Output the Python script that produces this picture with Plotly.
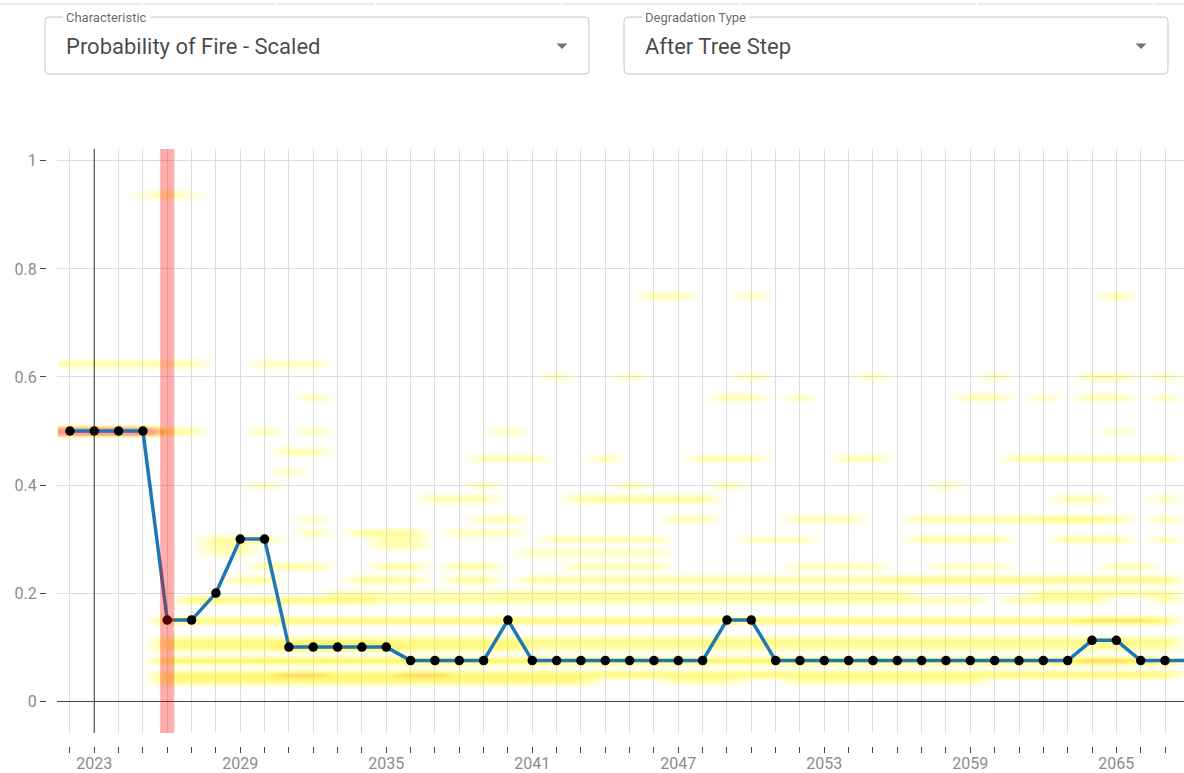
import plotly.graph_objects as go

# ---- selected run: scaled probability of fire per year ----
years = list(range(2022, 2069))
fire_prob = [
    0.5, 0.5, 0.5, 0.5,                # 2022-2025
    0.15, 0.15, 0.2, 0.3, 0.3,         # 2026-2030
    0.1, 0.1, 0.1, 0.1, 0.1,           # 2031-2035
    0.075, 0.075, 0.075, 0.075,        # 2036-2039
    0.15,                              # 2040
    0.075, 0.075, 0.075, 0.075, 0.075, 0.075, 0.075, 0.075,  # 2041-2048
    0.15, 0.15,                        # 2049-2050
    0.075, 0.075, 0.075, 0.075, 0.075, 0.075, 0.075, 0.075, 0.075, 0.075, 0.075, 0.075, 0.075,  # 2051-2063
    0.1125, 0.1125,                    # 2064-2065
    0.075, 0.075, 0.075,               # 2066-2068
]

current_year = 2023
selected_year = 2026

x_tick_labels = [2023, 2029, 2035, 2041, 2047, 2053, 2059, 2065]
y_tick_values = [0, 0.2, 0.4, 0.6, 0.8, 1]
y_tick_labels = ["0", "0.2", "0.4", "0.6", "0.8", "1"]

# ---- ensemble density: (level, first year, last year, share of runs) ----
density_upper = [
    (0.9375, 2025, 2025, 0.06), (0.9375, 2026, 2026, 0.14), (0.9375, 2027, 2027, 0.06),
    (0.75, 2046, 2047, 0.12), (0.75, 2050, 2050, 0.1), (0.75, 2065, 2065, 0.14),
    (0.625, 2022, 2027, 0.12), (0.625, 2030, 2032, 0.1),
    (0.6, 2042, 2042, 0.1), (0.6, 2045, 2045, 0.1), (0.6, 2050, 2050, 0.1),
    (0.6, 2055, 2055, 0.1), (0.6, 2060, 2060, 0.1), (0.6, 2064, 2065, 0.12), (0.6, 2067, 2067, 0.1),
    (0.5625, 2032, 2032, 0.12), (0.5625, 2049, 2050, 0.12), (0.5625, 2052, 2052, 0.1),
    (0.5625, 2059, 2060, 0.12), (0.5625, 2062, 2062, 0.1), (0.5625, 2064, 2065, 0.12), (0.5625, 2067, 2067, 0.1),
    (0.5, 2022, 2025, 1.0), (0.5, 2026, 2026, 0.22), (0.5, 2027, 2027, 0.12),
    (0.5, 2030, 2030, 0.12), (0.5, 2032, 2032, 0.12), (0.5, 2040, 2040, 0.12), (0.5, 2065, 2065, 0.1),
    (0.4625, 2031, 2032, 0.12),
    (0.45, 2039, 2041, 0.11), (0.45, 2044, 2044, 0.12), (0.45, 2048, 2050, 0.12),
    (0.45, 2054, 2055, 0.12), (0.45, 2061, 2067, 0.14),
    (0.425, 2031, 2031, 0.1),
    (0.4, 2030, 2030, 0.1), (0.4, 2039, 2039, 0.1), (0.4, 2045, 2045, 0.1),
    (0.4, 2049, 2049, 0.1), (0.4, 2058, 2058, 0.1),
    (0.375, 2037, 2039, 0.12), (0.375, 2043, 2048, 0.14), (0.375, 2063, 2064, 0.12), (0.375, 2067, 2067, 0.1),
    (0.3375, 2032, 2032, 0.1), (0.3375, 2039, 2040, 0.12), (0.3375, 2047, 2048, 0.12),
    (0.3375, 2052, 2054, 0.12), (0.3375, 2057, 2061, 0.14), (0.3375, 2062, 2064, 0.18),
    (0.3375, 2065, 2065, 0.14), (0.3375, 2067, 2067, 0.12),
    (0.3125, 2032, 2032, 0.12), (0.3125, 2034, 2036, 0.14), (0.3125, 2038, 2040, 0.1),
    (0.3, 2028, 2030, 0.14), (0.3, 2035, 2036, 0.12), (0.3, 2042, 2046, 0.12),
    (0.3, 2050, 2052, 0.1), (0.3, 2057, 2060, 0.14), (0.3, 2063, 2065, 0.14), (0.3, 2067, 2067, 0.12),
    (0.2875, 2028, 2029, 0.12), (0.2875, 2035, 2036, 0.12),
]

density_lower = [
    (0.275, 2028, 2029, 0.1), (0.275, 2041, 2046, 0.1),
    (0.25, 2030, 2032, 0.14), (0.25, 2035, 2036, 0.14), (0.25, 2038, 2039, 0.14),
    (0.25, 2043, 2046, 0.12), (0.25, 2052, 2055, 0.1), (0.25, 2058, 2060, 0.1), (0.25, 2065, 2066, 0.12),
    (0.225, 2029, 2030, 0.14), (0.225, 2034, 2036, 0.14), (0.225, 2038, 2039, 0.14),
    (0.225, 2041, 2055, 0.14), (0.225, 2056, 2067, 0.18),
    (0.2, 2033, 2039, 0.1), (0.2, 2040, 2055, 0.12), (0.2, 2056, 2056, 0.12), (0.2, 2062, 2067, 0.14),
    (0.1875, 2027, 2034, 0.2), (0.1875, 2035, 2056, 0.14), (0.1875, 2057, 2059, 0.12),
    (0.1875, 2061, 2064, 0.14), (0.1875, 2067, 2067, 0.12),
    (0.15, 2026, 2063, 0.2), (0.15, 2064, 2066, 0.28), (0.15, 2067, 2067, 0.2),
    (0.1125, 2026, 2067, 0.18),
    (0.1, 2026, 2030, 0.18), (0.1, 2031, 2035, 0.24), (0.1, 2036, 2040, 0.18), (0.1, 2041, 2067, 0.12),
    (0.075, 2026, 2063, 0.22), (0.075, 2064, 2065, 0.3), (0.075, 2066, 2067, 0.22),
    (0.05, 2026, 2030, 0.2), (0.05, 2031, 2032, 0.3), (0.05, 2033, 2035, 0.2),
    (0.05, 2036, 2037, 0.3), (0.05, 2038, 2067, 0.2),
    (0.0375, 2026, 2043, 0.18), (0.0375, 2047, 2049, 0.12), (0.0375, 2052, 2059, 0.12),
]

# ---- density grid (levels every 0.0125) ----
level_step = 0.0125
levels = [round(i * level_step, 4) for i in range(81)]
z = [[0.0 for _ in years] for _ in levels]
for level, y0, y1, w in density_upper + density_lower:
    row = int(round(level / level_step))
    for yr in range(y0, y1 + 1):
        col = yr - years[0]
        z[row][col] = max(z[row][col], w)

density_colors = [
    [0.0, "rgba(255,255,0,0)"],
    [0.08, "rgba(255,255,0,0.22)"],
    [0.18, "rgba(255,245,0,0.48)"],
    [0.24, "rgba(255,225,0,0.6)"],
    [0.32, "rgba(255,160,20,0.5)"],
    [0.6, "rgba(255,60,40,0.48)"],
    [1.0, "rgba(255,20,20,0.48)"],
]

W, H = 1184, 773


def px(xp):
    return xp / W


def py(yp):
    return 1 - yp / H


fig = go.Figure()

fig.add_trace(go.Heatmap(
    x=years, y=levels, z=z, zmin=0, zmax=1, zsmooth="best",
    colorscale=density_colors, showscale=False, hoverinfo="skip",
))

fig.add_trace(go.Scatter(
    x=years, y=fire_prob, mode="lines+markers",
    line=dict(color="#1f77b4", width=3.5),
    marker=dict(color="black", size=9.5),
    hoverinfo="x+y", showlegend=False,
))

tick_font = dict(family="Roboto, Inter, sans-serif", size=16, color="#8c8c8c")

fig.update_layout(
    width=W, height=H,
    margin=dict(l=0, r=0, t=0, b=0, autoexpand=False),
    paper_bgcolor="white", plot_bgcolor="white",
    showlegend=False,
    xaxis=dict(
        domain=[px(57), 1], range=[2021.47, 2067.78],
        anchor="free", position=py(746), automargin=False,
        tickmode="array", tickvals=years,
        ticktext=[str(y) if y in x_tick_labels else "" for y in years],
        ticks="outside", ticklen=6, tickcolor="#444", tickwidth=1,
        ticklabelstandoff=-3,
        showgrid=True, gridcolor="#dcdcdc", gridwidth=1,
        showline=False, zeroline=False, tickfont=tick_font,
    ),
    yaxis=dict(
        domain=[py(733), py(149)], range=[-0.059, 1.022],
        anchor="free", position=px(46), automargin=False,
        tickmode="array", tickvals=y_tick_values, ticktext=y_tick_labels,
        ticks="outside", ticklen=6, tickcolor="#444", tickwidth=1,
        showgrid=True, gridcolor="#dcdcdc", gridwidth=1,
        zeroline=True, zerolinecolor="#444", zerolinewidth=1,
        showline=False, tickfont=tick_font,
    ),
)

# current year marker and selected year band
fig.add_shape(type="line", x0=current_year, x1=current_year, xref="x",
              y0=0, y1=1, yref="y domain", line=dict(color="#333", width=1), layer="above")
fig.add_shape(type="rect", x0=selected_year - 0.29, x1=selected_year + 0.29, xref="x",
              y0=0, y1=1, yref="y domain", fillcolor="rgba(255,0,0,0.32)",
              line=dict(width=0), layer="above")


# ---- selector boxes above the chart ----
def rounded_box(x0, y0, x1, y1, r):
    return (
        f"M {px(x0 + r)},{py(y0)} L {px(x1 - r)},{py(y0)} "
        f"Q {px(x1)},{py(y0)} {px(x1)},{py(y0 + r)} L {px(x1)},{py(y1 - r)} "
        f"Q {px(x1)},{py(y1)} {px(x1 - r)},{py(y1)} L {px(x0 + r)},{py(y1)} "
        f"Q {px(x0)},{py(y1)} {px(x0)},{py(y1 - r)} L {px(x0)},{py(y0 + r)} "
        f"Q {px(x0)},{py(y0)} {px(x0 + r)},{py(y0)} Z"
    )


selectors = [
    ("Characteristic", "Probability of Fire - Scaled", 45, 589),
    ("Degradation Type", "After Tree Step", 624, 1168),
]
for label, value, bx0, bx1 in selectors:
    fig.add_shape(type="path", path=rounded_box(bx0, 17, bx1, 74, 4),
                  xref="paper", yref="paper", line=dict(color="#c4c4c4", width=1),
                  fillcolor="rgba(0,0,0,0)")
    fig.add_annotation(x=px(bx0 + 17), y=py(18), xref="paper", yref="paper",
                       text=label, showarrow=False, xanchor="left", yanchor="middle",
                       font=dict(family="Roboto, sans-serif", size=13, color="rgba(0,0,0,0.62)"),
                       bgcolor="white", borderpad=3)
    fig.add_annotation(x=px(bx0 + 19), y=py(46), xref="paper", yref="paper",
                       text=value, showarrow=False, xanchor="left", yanchor="middle",
                       font=dict(family="Roboto, sans-serif", size=22, color="rgba(0,0,0,0.72)"))
    cx = bx1 - 27
    fig.add_shape(type="path",
                  path=f"M {px(cx - 5.5)},{py(43.5)} L {px(cx + 5.5)},{py(43.5)} L {px(cx)},{py(49)} Z",
                  xref="paper", yref="paper", fillcolor="rgba(0,0,0,0.55)", line=dict(width=0))

# faint tab strip line at the very top
for sx0, sx1 in [(0, 141), (143, 275), (277, 374), (376, 561), (563, 739),
                 (741, 976), (978, 1153), (1155, 1184)]:
    fig.add_shape(type="line", x0=px(sx0), x1=px(sx1), y0=py(4), y1=py(4),
                  xref="paper", yref="paper", line=dict(color="#e3e3e3", width=1.5))

fig.write_html("out.html")
